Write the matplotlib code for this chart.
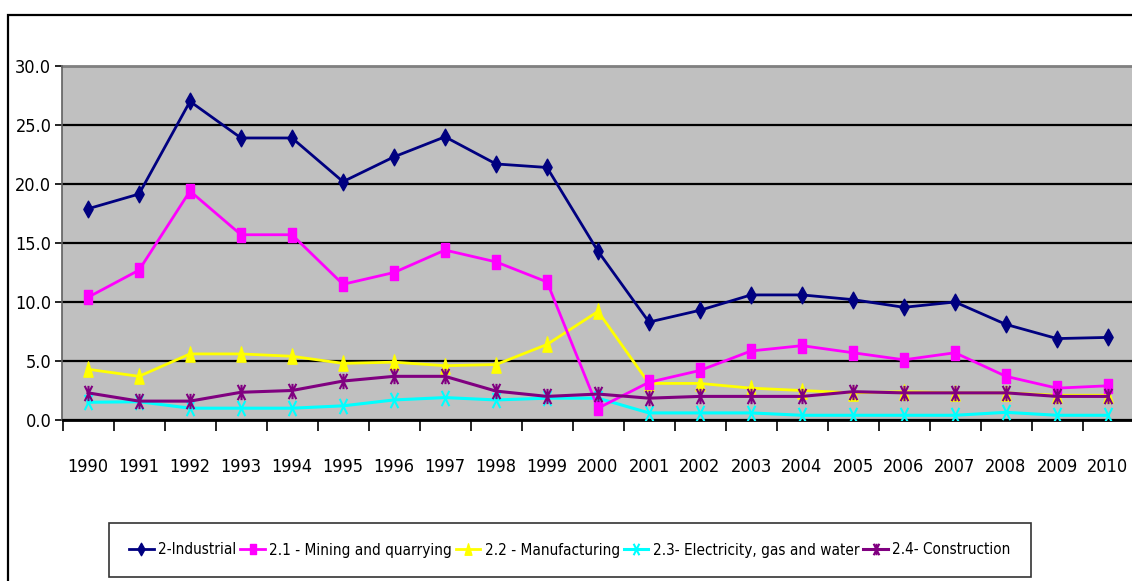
import matplotlib.pyplot as plt
import numpy as np
from matplotlib import font_manager
from matplotlib.patches import Rectangle
from matplotlib.path import Path

years = [str(y) for y in range(1990, 2011)]

industrial = [17.9, 19.15, 27.0, 23.9, 23.9, 20.2, 22.3, 24.0, 21.7, 21.4, 14.3,
              8.3, 9.3, 10.6, 10.6, 10.2, 9.55, 10.0, 8.1, 6.9, 7.0]
mining = [10.4, 12.7, 19.4, 15.7, 15.7, 11.5, 12.5, 14.4, 13.4, 11.7, 1.0,
          3.2, 4.2, 5.85, 6.3, 5.7, 5.1, 5.7, 3.7, 2.7, 2.9]
manufacturing = [4.3, 3.7, 5.6, 5.6, 5.4, 4.8, 4.9, 4.6, 4.7, 6.4, 9.2,
                 3.1, 3.1, 2.7, 2.5, 2.3, 2.4, 2.3, 2.3, 2.1, 2.1]
electricity = [1.5, 1.55, 1.0, 1.0, 1.0, 1.2, 1.7, 1.9, 1.7, 1.85, 1.85,
               0.6, 0.6, 0.6, 0.4, 0.4, 0.4, 0.4, 0.65, 0.4, 0.4]
construction = [2.3, 1.6, 1.6, 2.35, 2.5, 3.3, 3.7, 3.7, 2.45, 2.0, 2.2,
                1.85, 2.0, 2.0, 2.0, 2.4, 2.3, 2.3, 2.3, 2.0, 2.0]

labels = ['2-Industrial', '2.1 - Mining and quarrying', '2.2 - Manufacturing',
          '2.3- Electricity, gas and water', '2.4- Construction']

# the original uses Arial Narrow; pick a narrow face if one is installed
fonts = font_manager.fontManager.ttflist
names = {f.name for f in fonts}
fsize, lsize = 11, 10
if 'Liberation Sans Narrow' in names:
    plt.rcParams['font.family'] = ['Liberation Sans Narrow', 'DejaVu Sans']
    fsize, lsize = 13, 13
elif any(f.name == 'DejaVu Sans' and 'condensed' in str(f.stretch) for f in fonts):
    plt.rcParams['font.family'] = ['DejaVu Sans']
    plt.rcParams['font.stretch'] = 'condensed'
    fsize, lsize = 12, 11
else:
    plt.rcParams['font.family'] = ['Liberation Sans', 'DejaVu Sans']

# tall marker shapes (the original chart is stretched vertically)
tall_square = Path([(-0.3, -0.5), (0.3, -0.5), (0.3, 0.5), (-0.3, 0.5), (-0.3, -0.5)],
                   [Path.MOVETO, Path.LINETO, Path.LINETO, Path.LINETO, Path.CLOSEPOLY])
tall_diamond = Path([(0, -0.5), (0.28, 0), (0, 0.5), (-0.28, 0), (0, -0.5)],
                    [Path.MOVETO, Path.LINETO, Path.LINETO, Path.LINETO, Path.CLOSEPOLY])
tall_triangle = Path([(-0.3, -0.5), (0.3, -0.5), (0, 0.5), (-0.3, -0.5)],
                     [Path.MOVETO, Path.LINETO, Path.LINETO, Path.CLOSEPOLY])
tall_x = Path([(-0.25, -0.5), (0.25, 0.5), (-0.25, 0.5), (0.25, -0.5)],
              [Path.MOVETO, Path.LINETO, Path.MOVETO, Path.LINETO])
tall_star = Path([(-0.25, -0.5), (0.25, 0.5), (-0.25, 0.5), (0.25, -0.5), (0, -0.5), (0, 0.5)],
                 [Path.MOVETO, Path.LINETO, Path.MOVETO, Path.LINETO, Path.MOVETO, Path.LINETO])

fig = plt.figure(figsize=(11.32, 5.81), dpi=100)
W, H = 1132, 581
ax = fig.add_axes([62.5 / W, (H - 420) / H, 1071 / W, 354 / H])
ax.set_facecolor('#C0C0C0')

x = np.arange(len(years))
ax.plot(x, industrial, color='#000080', lw=2, marker=tall_diamond, ms=12, label=labels[0], zorder=5)
ax.plot(x, mining, color='#FF00FF', lw=2, marker=tall_square, ms=10.5, label=labels[1], zorder=4)
ax.plot(x, manufacturing, color='#FFFF00', lw=2, marker=tall_triangle, ms=11, label=labels[2], zorder=3)
ax.plot(x, electricity, color='#00FFFF', lw=2.2, marker=tall_x, ms=11, mew=1.5, label=labels[3], zorder=3)
ax.plot(x, construction, color='#800080', lw=2.2, marker=tall_star, ms=11, mew=1.5, label=labels[4], zorder=4)

ax.set_xlim(-0.5, len(years) - 0.5)
ax.set_ylim(0, 30)
ax.set_yticks(np.arange(0, 31, 5))
ax.set_yticklabels(['%.1f' % v for v in np.arange(0, 31, 5)], fontsize=fsize + 1)
ax.yaxis.grid(True, color='black', lw=1.6)
ax.set_axisbelow(True)

ax.set_xticks(np.arange(-0.5, len(years), 1))
ax.set_xticklabels([])
ax.set_xticks(x, minor=True)
ax.set_xticklabels(years, minor=True, fontsize=fsize + 1)
ax.tick_params(axis='x', which='major', direction='out', length=8, width=1.2)
ax.tick_params(axis='x', which='minor', length=0, pad=27)
ax.tick_params(axis='y', direction='out', length=5, width=1.2, pad=3)

for side in ['top', 'right']:
    ax.spines[side].set_visible(False)
ax.spines['left'].set_color('#606060')
ax.spines['left'].set_linewidth(1.2)
ax.spines['bottom'].set_color('black')
ax.spines['bottom'].set_linewidth(2)
ax.axhline(30, color='#808080', lw=2, zorder=1, clip_on=False)

# outer chart border
fig.patches.append(Rectangle((8 / W, -0.05), 1.2, 1 - 15 / H + 0.05,
                             transform=fig.transFigure, fill=False,
                             edgecolor='black', lw=1.6))

leg = fig.legend(loc='center', bbox_to_anchor=(570 / W, 1 - 550 / H),
                 ncol=5, fontsize=lsize, frameon=True, fancybox=False,
                 edgecolor='black', handlelength=1.6, handletextpad=0.3,
                 columnspacing=0.25, borderpad=1.3, markerscale=0.75)
leg.get_frame().set_linewidth(1.2)

fig.savefig('out.png', dpi=100)
